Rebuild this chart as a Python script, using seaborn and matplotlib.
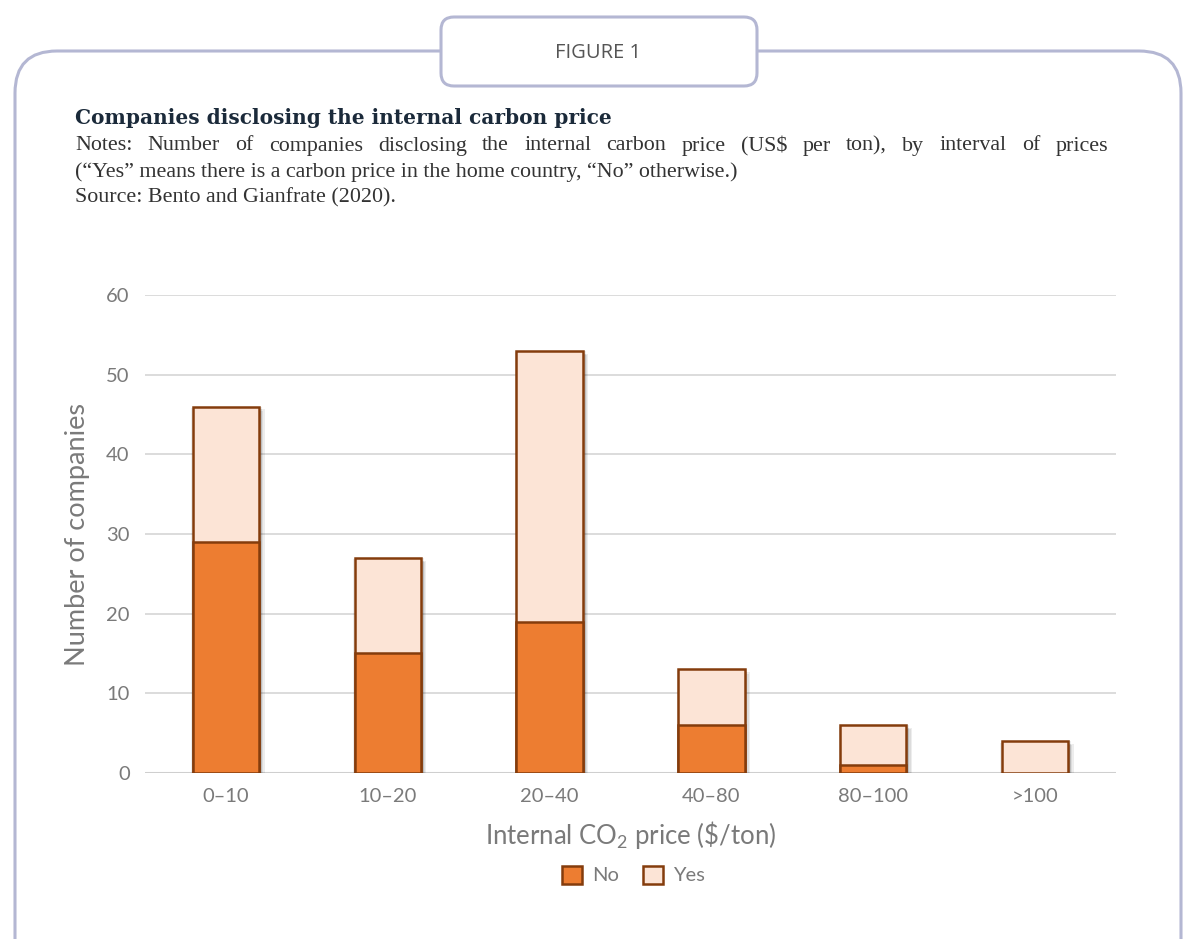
import numpy as np
import pandas as pd
import matplotlib
matplotlib.use("Agg")
import matplotlib.pyplot as plt
import matplotlib.patheffects as pe
from matplotlib.patches import FancyBboxPatch, Patch
import seaborn as sns

# Data
price_bins = ["0\u201310", "10\u201320", "20\u201340", "40\u201380", "80\u2013100", ">100"]
no_counts = [29, 15, 19, 6, 1, 0]
yes_counts = [17, 12, 34, 7, 5, 4]
y_ticks = [0, 10, 20, 30, 40, 50, 60]

df = pd.DataFrame({"bin": price_bins, "No": no_counts, "Yes": yes_counts})
df["total"] = df["No"] + df["Yes"]

sns.set_theme(style="white")
plt.rcParams["font.family"] = ["Lato", "DejaVu Sans"]
plt.rcParams["mathtext.fontset"] = "custom"
plt.rcParams["mathtext.rm"] = "Lato"
plt.rcParams["mathtext.it"] = "Lato"

no_col = "#ED7D31"
yes_col = "#FCE4D6"
edge_col = "#843C0C"
frame_col = "#B4B7D3"
grey = "#7A7A7A"

fig = plt.figure(figsize=(11.84, 9.39), dpi=100)

# background frame drawn in pixel coordinates
bg = fig.add_axes([0, 0, 1, 1], zorder=0)
bg.set_xlim(0, 1184)
bg.set_ylim(939, 0)
bg.axis("off")
bg.add_patch(FancyBboxPatch((15, 51), 1166, 960, boxstyle="round,pad=0,rounding_size=42",
                            fc="white", ec=frame_col, lw=2.2))
bg.add_patch(FancyBboxPatch((441, 17), 316, 69, boxstyle="round,pad=0,rounding_size=13",
                            fc="white", ec=frame_col, lw=2.2))
bg.text(598, 53, "FIGURE 1", ha="center", va="center", fontsize=14.5, color="#555555",
        family=["Open Sans", "DejaVu Sans"])

bg.text(75, 118, "Companies disclosing the internal carbon price", ha="left", va="center",
        fontsize=14.5, fontweight="bold", color="#1B2A3A", family=["DejaVu Serif"])

notes = ["Notes: Number of companies disclosing the internal carbon price (US$ per ton), by interval of prices",
         "(\u201cYes\u201d means there is a carbon price in the home country, \u201cNo\u201d otherwise.)",
         "Source: Bento and Gianfrate (2020)."]
note_kw = dict(va="center", fontsize=15.8, color="#333333", family=["Liberation Serif"])

# first line is justified between x=75 and x=1108
renderer = fig.canvas.get_renderer()
words = notes[0].split(" ")
objs = [bg.text(0, 146, w.replace("$", r"\$"), ha="left", **note_kw) for w in words]
inv = bg.transData.inverted()
widths = []
for t in objs:
    bb = t.get_window_extent(renderer)
    x0 = inv.transform((bb.x0, bb.y0))[0]
    x1 = inv.transform((bb.x1, bb.y0))[0]
    widths.append(x1 - x0)
gap = (1108 - 75 - sum(widths)) / (len(words) - 1)
x = 75
for t, w in zip(objs, widths):
    t.set_x(x)
    x += w + gap
for i, line in enumerate(notes[1:]):
    bg.text(75, 172 + i * 26, line, ha="left", **note_kw)

# chart
ax = fig.add_axes([0.1225, 0.1768, 0.82, 0.509], zorder=1)
ax.patch.set_alpha(0)

# soft shadow built from a few faint offset copies
shadow = [pe.SimplePatchShadow(offset=o, shadow_rgbFace="#000000", alpha=0.07)
          for o in [(-1, -1), (0, -2), (1, -1), (2, -2), (3, -3), (2, 0), (4, -2), (1, -3)]]
shadow.append(pe.Normal())

sns.barplot(data=df, x="bin", y="total", color=yes_col, width=0.41, edgecolor=edge_col,
            linewidth=1.8, saturation=1, ax=ax, zorder=3)
for bar in ax.patches:
    bar.set_path_effects(shadow)
n_prev = len(ax.patches)
sns.barplot(data=df, x="bin", y="No", color=no_col, width=0.41, edgecolor=edge_col,
            linewidth=1.8, saturation=1, ax=ax, zorder=4)
for bar, v in zip(ax.patches[n_prev:], no_counts):
    if v == 0:
        bar.set_visible(False)

ax.set_ylim(0, 60)
ax.set_xlim(-0.5, 5.5)
ax.set_yticks(y_ticks)
ax.yaxis.grid(True, color="#D9D9D9", lw=1.3, zorder=0)
ax.set_axisbelow(True)
for s in ax.spines.values():
    s.set_visible(False)
ax.axhline(0, color="#CFCFCF", lw=2.2, zorder=2)
ax.tick_params(axis="both", length=0, labelsize=14.5, colors=grey, pad=11)
ax.set_xlabel("Internal CO$_2$ price (\\$/ton)", fontsize=18.5, color=grey, labelpad=10)
ax.set_ylabel("Number of companies", fontsize=19.5, color=grey, labelpad=12)

handles = [Patch(fc=no_col, ec=edge_col, lw=1.8, label="No"),
           Patch(fc=yes_col, ec=edge_col, lw=1.8, label="Yes")]
fig.legend(handles=handles, loc="center", bbox_to_anchor=(0.535, 1 - 875 / 939), ncol=2,
           frameon=False, fontsize=14.5, handlelength=1.0, handleheight=1.0, handletextpad=0.5,
           columnspacing=1.2, labelcolor=grey)

fig.savefig("out.png", dpi=100, facecolor="white")
